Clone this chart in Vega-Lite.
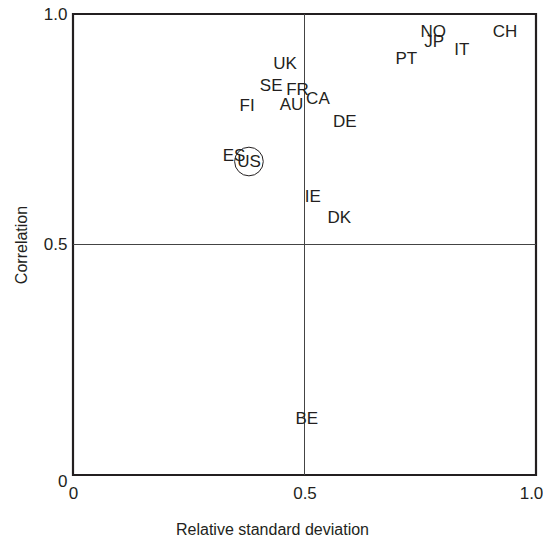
{
  "$schema": "https://vega.github.io/schema/vega-lite/v6.json",
  "width": 463,
  "height": 461,
  "autosize": {"type": "none"},
  "padding": {"left": 73, "top": 14, "right": 7, "bottom": 63},
  "background": "white",
  "config": {
    "view": {"stroke": "#231f20", "strokeWidth": 2.2},
    "font": "Liberation Sans",
    "axis": {
      "domain": false,
      "ticks": false,
      "grid": false,
      "labelFont": "Liberation Sans",
      "labelFontSize": 17,
      "labelColor": "#231f20",
      "titleFont": "Liberation Sans",
      "titleFontSize": 16,
      "titleFontWeight": "normal",
      "titleColor": "#231f20"
    }
  },
  "datasets": {
    "countries": [
      {"country": "UK", "rsd": 0.458, "corr": 0.891},
      {"country": "SE", "rsd": 0.428, "corr": 0.844},
      {"country": "FR", "rsd": 0.485, "corr": 0.835},
      {"country": "AU", "rsd": 0.472, "corr": 0.803},
      {"country": "CA", "rsd": 0.529, "corr": 0.815},
      {"country": "FI", "rsd": 0.376, "corr": 0.800},
      {"country": "DE", "rsd": 0.587, "corr": 0.766},
      {"country": "ES", "rsd": 0.348, "corr": 0.692},
      {"country": "US", "rsd": 0.380, "corr": 0.680},
      {"country": "IE", "rsd": 0.518, "corr": 0.603},
      {"country": "DK", "rsd": 0.575, "corr": 0.557},
      {"country": "BE", "rsd": 0.505, "corr": 0.122},
      {"country": "NO", "rsd": 0.778, "corr": 0.962},
      {"country": "JP", "rsd": 0.780, "corr": 0.940},
      {"country": "IT", "rsd": 0.840, "corr": 0.922},
      {"country": "PT", "rsd": 0.720, "corr": 0.903},
      {"country": "CH", "rsd": 0.933, "corr": 0.962}
    ]
  },
  "layer": [
    {
      "data": {"values": [{"mid": 0.5}]},
      "mark": {"type": "rule", "color": "#444", "strokeWidth": 1},
      "encoding": {
        "x": {"field": "mid", "type": "quantitative", "scale": {"domain": [0, 1]}}
      }
    },
    {
      "data": {"values": [{"mid": 0.5}]},
      "mark": {"type": "rule", "color": "#444", "strokeWidth": 1},
      "encoding": {
        "y": {"field": "mid", "type": "quantitative", "scale": {"domain": [0, 1]}}
      }
    },
    {
      "data": {"name": "countries"},
      "transform": [{"filter": "datum.country == 'US'"}],
      "mark": {"type": "point", "shape": "circle", "size": 820, "filled": false, "stroke": "#231f20", "strokeWidth": 1, "opacity": 1},
      "encoding": {
        "x": {"field": "rsd", "type": "quantitative"},
        "y": {"field": "corr", "type": "quantitative"}
      }
    },
    {
      "data": {"name": "countries"},
      "mark": {"type": "text", "fontSize": 17, "color": "#231f20", "align": "center", "baseline": "middle"},
      "encoding": {
        "x": {
          "field": "rsd",
          "type": "quantitative",
          "scale": {"domain": [0, 1], "nice": false, "zero": true},
          "axis": {
            "title": "Relative standard deviation",
            "values": [0, 0.5, 1],
            "labelExpr": "datum.value == 0 ? '0' : format(datum.value, '.1f')",
            "labelPadding": 10,
            "labelFlush": false,
            "labelOffset": {"condition": {"test": "datum.value == 1", "value": -5}, "value": 0},
            "titlePadding": 20,
            "titleX": 199
          }
        },
        "y": {
          "field": "corr",
          "type": "quantitative",
          "scale": {"domain": [0, 1], "nice": false, "zero": true},
          "axis": {
            "title": "Correlation",
            "values": [0, 0.5, 1],
            "labelExpr": "datum.value == 0 ? '0' : format(datum.value, '.1f')",
            "labelPadding": 6,
            "labelFlush": false,
            "labelOffset": {"condition": {"test": "datum.value == 0", "value": 6}, "value": 0},
            "titlePadding": 14
          }
        },
        "text": {"field": "country", "type": "nominal"}
      }
    }
  ]
}
